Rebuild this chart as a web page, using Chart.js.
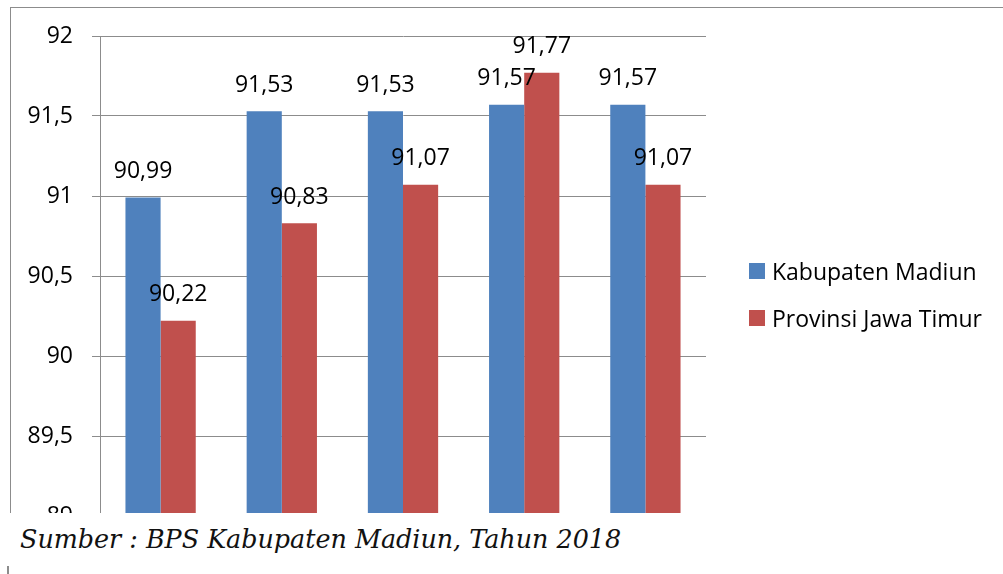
<!DOCTYPE html>
<html>
<head>
<meta charset="utf-8">
<script src="https://cdn.jsdelivr.net/npm/chart.js@4/dist/chart.umd.min.js"></script>
<style>
  body { margin: 0; background: #fff; }
  #wrap { position: relative; width: 1003px; height: 574px; overflow: hidden; }
  #chartBox { position: absolute; left: 0; top: 0; width: 1003px; height: 574px; }
  .frame-left { position: absolute; left: 10px; top: 7px; width: 1px; height: 506px; background: #8c8c8c; }
  .frame-top { position: absolute; left: 10px; top: 7px; width: 993px; height: 1px; background: #8c8c8c; }
  .cut { position: absolute; left: 0; top: 513px; width: 1003px; height: 61px; background: #fff; }
  .source { position: absolute; left: 20px; top: 11px; font-family: "DejaVu Serif", serif; font-style: italic; font-size: 25.4px; color: #111; white-space: nowrap; }
  .mark { position: absolute; left: 7px; top: 566px; width: 2px; height: 8px; background: #8c8c8c; }
  .legend { position: absolute; left: 749px; top: 255px; font-family: "Open Sans", sans-serif; font-size: 23px; color: #000; }
  .legend div { height: 47px; display: flex; align-items: flex-start; }
  .legend span.sw { display: inline-block; width: 16px; height: 16px; margin-top: 8px; margin-right: 7px; }
</style>
</head>
<body>
<div id="wrap">
  <div id="chartBox"><canvas id="chart"></canvas></div>
  <div class="frame-left"></div>
  <div class="frame-top"></div>
  <div class="legend" id="legend"></div>
  <div class="cut"><div class="source">Sumber : BPS Kabupaten Madiun, Tahun 2018</div></div>
  <div class="mark"></div>
</div>
<script>
// data
const categories = ["1", "2", "3", "4", "5"];
const seriesNames = ["Kabupaten Madiun", "Provinsi Jawa Timur"];
const kabupatenMadiun = [90.99, 91.53, 91.53, 91.57, 91.57];
const provinsiJatim = [90.22, 90.83, 91.07, 91.77, 91.07];
const seriesColors = ["#4F81BD", "#C0504D"];
const yTicks = [89, 89.5, 90, 90.5, 91, 91.5, 92];

const fmt = v => String(v).replace(".", ",");

// legend
const legend = document.getElementById("legend");
seriesNames.forEach((name, i) => {
  legend.innerHTML += `<div><span class="sw" style="background:${seriesColors[i]}"></span>${name}</div>`;
});

// labels above bars
const valueLabels = {
  id: "valueLabels",
  afterDatasetsDraw(chart) {
    const ctx = chart.ctx;
    ctx.save();
    ctx.font = "23px 'Open Sans', sans-serif";
    ctx.fillStyle = "#000";
    ctx.textAlign = "center";
    ctx.textBaseline = "middle";
    chart.data.datasets.forEach((ds, i) => {
      chart.getDatasetMeta(i).data.forEach((bar, j) => {
        ctx.fillText(fmt(ds.data[j]), bar.x, bar.y - 26);
      });
    });
    ctx.restore();
  }
};

new Chart(document.getElementById("chart"), {
  type: "bar",
  data: {
    labels: categories,
    datasets: [
      { label: seriesNames[0], data: kabupatenMadiun, backgroundColor: seriesColors[0], base: 89 },
      { label: seriesNames[1], data: provinsiJatim, backgroundColor: seriesColors[1], base: 89 }
    ]
  },
  options: {
    responsive: true,
    maintainAspectRatio: false,
    animation: false,
    layout: { padding: { left: 0, right: 297, top: 36, bottom: 58 } },
    plugins: { legend: { display: false }, tooltip: { enabled: false } },
    datasets: { bar: { barPercentage: 1, categoryPercentage: 0.58 } },
    scales: {
      x: { display: false },
      y: {
        min: 89,
        max: 92,
        afterBuildTicks: s => { s.ticks = yTicks.map(v => ({ value: v })); },
        afterFit: s => { s.width = 100; },
        grid: { color: "#8c8c8c", lineWidth: 1, tickLength: 8 },
        border: { color: "#8c8c8c" },
        ticks: {
          color: "#000",
          font: { family: "'Open Sans', sans-serif", size: 23 },
          padding: 19,
          callback: v => fmt(v)
        }
      }
    }
  },
  plugins: [valueLabels]
});
</script>
</body>
</html>
